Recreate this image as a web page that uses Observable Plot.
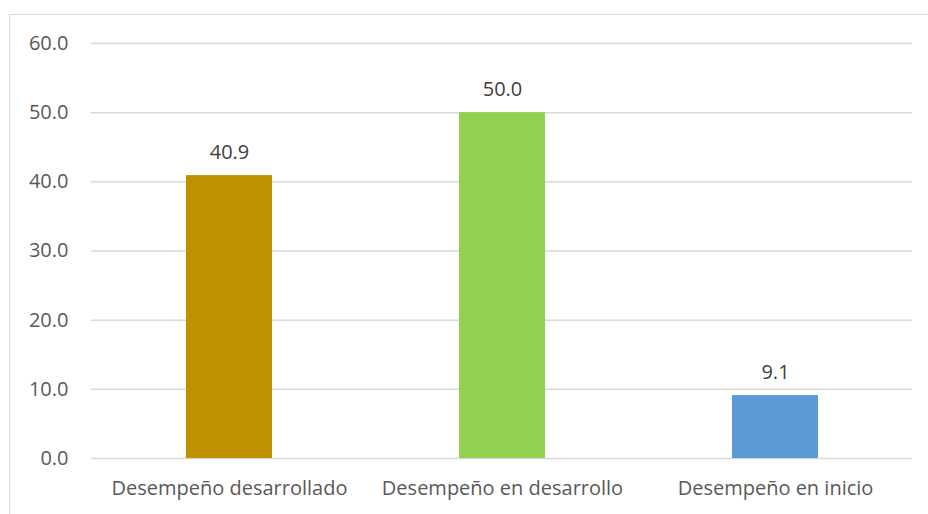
<!DOCTYPE html>
<html>
<head>
<meta charset="utf-8">
<script src="https://cdn.jsdelivr.net/npm/d3@7"></script>
<script src="https://cdn.jsdelivr.net/npm/@observablehq/plot@0.6"></script>
<style>
  html, body { margin: 0; padding: 0; background: #fff; }
  #wrap { position: relative; width: 928px; height: 514px; overflow: hidden; }
  #border { position: absolute; left: 9px; top: 14px; width: 930px; height: 520px;
            border-left: 1.5px solid #d9d9d9; border-top: 1.5px solid #d9d9d9; }
  #chart { position: absolute; left: 0; top: 0; }
</style>
</head>
<body>
<div id="wrap"><div id="border"></div><div id="chart"></div></div>
<script>
const categories = ["Desempeño desarrollado", "Desempeño en desarrollo", "Desempeño en inicio"];
const values = [40.9, 50.0, 9.1];
const colors = ["#bf9000", "#92d050", "#5b9bd5"];
const yTicks = [0, 10, 20, 30, 40, 50, 60];

const data = categories.map((c, i) => ({category: c, value: values[i], color: colors[i]}));

const chart = Plot.plot({
  width: 928,
  height: 514,
  marginLeft: 91,
  marginRight: 16,
  marginTop: 43,
  marginBottom: 56,
  style: {fontFamily: "'Open Sans', 'DejaVu Sans', sans-serif", fontSize: "20px", color: "#595959", background: "transparent"},
  x: {domain: categories, paddingInner: 0.686, paddingOuter: 0.343, label: null, tickSize: 0, tickPadding: 22},
  y: {domain: [0, 60], ticks: yTicks, tickFormat: d => d.toFixed(1), label: null, tickSize: 0, tickPadding: 23},
  marks: [
    Plot.ruleY(yTicks, {stroke: "#d9d9d9", strokeWidth: 1.5}),
    Plot.barY(data, {x: "category", y: "value", fill: "color"}),
    Plot.text(data, {x: "category", y: "value", text: d => d.value.toFixed(1), dy: -23, fill: "#404040", fontSize: 20})
  ]
});
document.getElementById("chart").appendChild(chart);
</script>
</body>
</html>
